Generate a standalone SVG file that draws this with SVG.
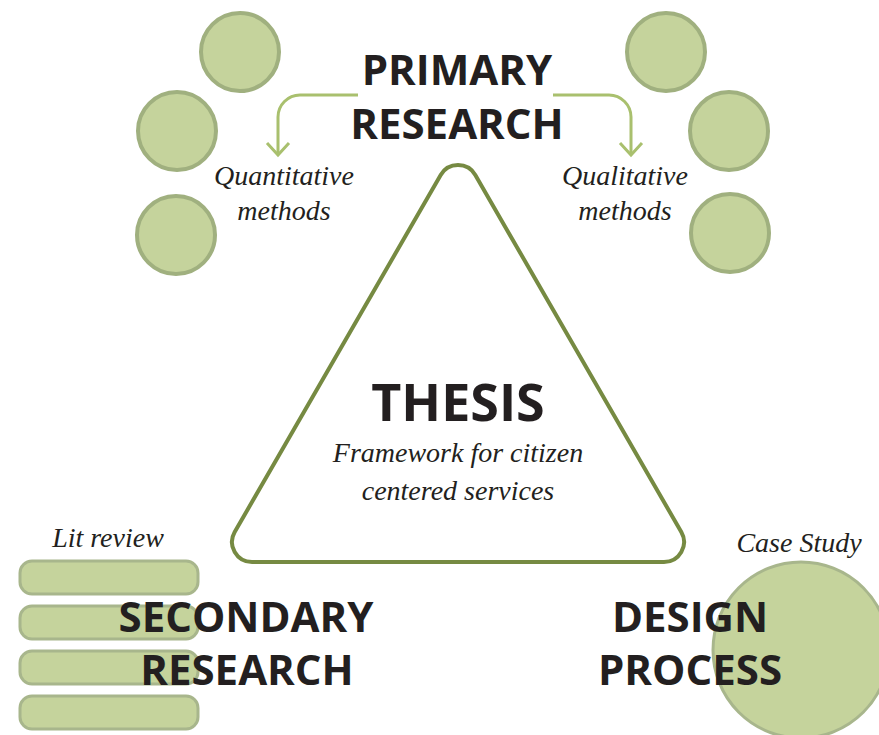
<svg xmlns="http://www.w3.org/2000/svg" width="879" height="735" viewBox="0 0 879 735">
<style>
.dot{fill:#c5d39c;stroke:#a0b07f;stroke-width:4}
.bar{fill:#c5d39c;stroke:#a8b68c;stroke-width:3}
.head{font-family:"Open Sans","Noto Sans",sans-serif;font-weight:700;fill:#231f20;text-anchor:middle}
.it{font-family:"Liberation Serif",serif;font-style:italic;font-size:28px;fill:#231f20;text-anchor:middle}
.arr{fill:none;stroke:#a9c06e;stroke-width:3}
</style>
<rect width="879" height="735" fill="#ffffff"/>
<g id="primary-left-circles">
<circle class="dot" cx="240" cy="52" r="39"/>
<circle class="dot" cx="177" cy="131" r="39"/>
<circle class="dot" cx="176" cy="235" r="39"/>
</g>
<g id="primary-right-circles">
<circle class="dot" cx="666" cy="52" r="39"/>
<circle class="dot" cx="729" cy="131" r="39"/>
<circle class="dot" cx="730" cy="233" r="39"/>
</g>
<g id="connectors">
<path class="arr" d="M358,95 H300 A22,22 0 0 0 278,117 V154"/>
<path class="arr" d="M267,143 L278,155 L289,143"/>
<path class="arr" d="M553,95 H609 A22,22 0 0 1 631,117 V154"/>
<path class="arr" d="M620,143 L631,155 L642,143"/>
</g>
<g id="primary-research">
<text class="head" x="457" y="85" font-size="42">PRIMARY</text>
<text class="head" x="457" y="139" font-size="42">RESEARCH</text>
</g>
<g id="quantitative">
<text class="it" x="284" y="185" font-size="29">Quantitative</text>
<text class="it" x="284" y="220">methods</text>
</g>
<g id="qualitative">
<text class="it" x="625" y="185">Qualitative</text>
<text class="it" x="625" y="220">methods</text>
</g>
<g id="thesis">
<path d="M440.7,175 A20,20 0 0 1 475.3,175 L681.3,532 A20,20 0 0 1 664,562 L252,562 A20,20 0 0 1 234.7,532 Z" fill="#ffffff" stroke="#768a42" stroke-width="4"/>
<text class="head" x="458" y="421" font-size="52">THESIS</text>
<text class="it" x="458" y="462">Framework for citizen</text>
<text class="it" x="458" y="500">centered services</text>
</g>
<g id="secondary-research">
<text class="it" x="108" y="547">Lit review</text>
<rect class="bar" x="20" y="561" width="178" height="33" rx="12"/>
<rect class="bar" x="20" y="606" width="178" height="33" rx="12"/>
<rect class="bar" x="20" y="651" width="178" height="33" rx="12"/>
<rect class="bar" x="20" y="696" width="178" height="33" rx="12"/>
<text class="head" x="246" y="632" font-size="42">SECONDARY</text>
<text class="head" x="247" y="685" font-size="42">RESEARCH</text>
</g>
<g id="design-process">
<text class="it" x="799" y="552">Case Study</text>
<circle cx="801" cy="650" r="88" fill="#c5d39c" stroke="#a8b68c" stroke-width="3"/>
<text class="head" x="690" y="632" font-size="42">DESIGN</text>
<text class="head" x="690" y="685" font-size="42">PROCESS</text>
</g>
</svg>
